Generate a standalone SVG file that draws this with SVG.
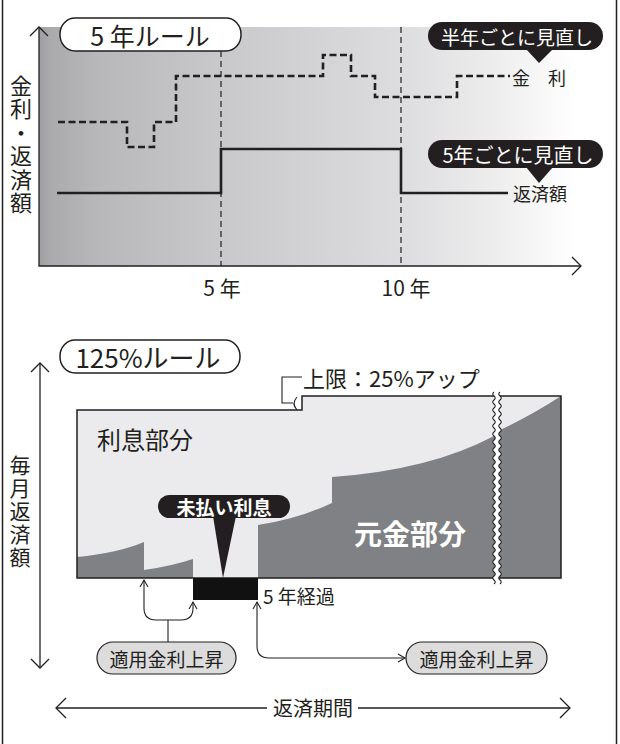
<svg xmlns="http://www.w3.org/2000/svg" width="620" height="744" viewBox="0 0 620 744">
<defs>
<linearGradient id="bg" x1="0" y1="0" x2="1" y2="0">
<stop offset="0" stop-color="#9e9ea0"/>
<stop offset="0.02" stop-color="#aaaaac"/>
<stop offset="0.11" stop-color="#b8b8ba"/>
<stop offset="0.34" stop-color="#c9c9cb"/>
<stop offset="0.67" stop-color="#dddddf"/>
<stop offset="0.85" stop-color="#eeeeef"/>
<stop offset="0.97" stop-color="#fdfdfd"/>
<stop offset="1" stop-color="#ffffff"/>
</linearGradient>
<style>
text { font-family: "Noto Sans CJK JP", "Noto Sans", sans-serif; fill: #231f20; }
.c { text-anchor: middle; dominant-baseline: central; }
.s { dominant-baseline: central; }
.v { writing-mode: vertical-rl; text-anchor: middle; }
.w { fill: #ffffff; }
.b { font-weight: bold; }
.ln { fill: none; stroke: #231f20; stroke-width: 1.1; }
.ax { fill: none; stroke: #231f20; stroke-width: 1.3; }
.pill { fill: #ffffff; stroke: #231f20; stroke-width: 1.5; }
.bubble { fill: #231f20; }
.gpill { fill: #dcdcdd; stroke: #231f20; stroke-width: 1.2; }
.vdash { stroke: #231f20; stroke-width: 1.2; stroke-dasharray: 6 4; fill: none; }
.rate { fill: none; stroke: #231f20; stroke-width: 2.6; stroke-dasharray: 7 3.5; }
.pay { fill: none; stroke: #231f20; stroke-width: 2.6; }
.light { fill: #ebebed; }
.dark { fill: #808184; }
</style>
</defs>

<g id="frame">
<line x1="2.5" y1="0" x2="2.5" y2="744" stroke="#231f20" stroke-width="1.5"/>
<line x1="616.5" y1="0" x2="616.5" y2="744" stroke="#231f20" stroke-width="1.5"/>
</g>

<!-- 5年ルール chart -->
<g id="chart5">
<rect x="39" y="27" width="542" height="239" fill="url(#bg)"/>
<line class="vdash" x1="221" y1="51" x2="221" y2="266"/>
<line class="vdash" x1="401" y1="27" x2="401" y2="266"/>
<path class="ax" d="M39,27 V266 H581"/>
<path class="ax" d="M30,36 L39,27 L48,36"/>
<path class="ax" d="M572,257 L581,266 L572,275"/>
<path id="rate-line" class="rate" d="M58,122 H127 V147 H154 V122 H176 V76 H323 V55 H351 V76 H375 V97 H457 V76 H510"/>
<path id="pay-line" class="pay" d="M57,193 H221 V149 H401 V193 H508"/>
<text class="c" x="539" y="77" font-size="18">金　利</text>
<text class="c" x="540" y="193" font-size="18">返済額</text>
<text class="c" x="222" y="287" font-size="21">5 年</text>
<text class="c" x="406" y="287" font-size="21">10 年</text>
</g>

<g id="ylabel-top">
<text class="v" x="21" y="145" font-size="22" letter-spacing="1.5">金利・返済額</text>
</g>

<g id="title-5year">
<rect class="pill" x="60" y="18" width="181" height="33" rx="15" ry="16"/>
<text class="c" x="150" y="35" font-size="25">5 年ルール</text>
</g>

<g id="callout-halfyear">
<rect class="bubble" x="428" y="22" width="175" height="28" rx="14"/>
<path class="bubble" d="M526,49 L553,49 L539,63 Z"/>
<text class="c w" x="517" y="36" font-size="19">半年ごとに見直し</text>
</g>

<g id="callout-5year">
<rect class="bubble" x="428" y="140" width="175" height="28" rx="14"/>
<path class="bubble" d="M526,167 L553,167 L539,183 Z"/>
<text class="c w" x="518" y="154" font-size="20">5年ごとに見直し</text>
</g>

<!-- 125%ルール -->
<g id="title-125">
<rect class="pill" x="60" y="340" width="180" height="33" rx="15" ry="16"/>
<text class="c" x="148" y="356" font-size="26">125%ルール</text>
</g>

<g id="ylabel-bottom">
<text class="v" x="20" y="512" font-size="21" letter-spacing="2">毎月返済額</text>
</g>

<g id="chart125">
<path class="light" d="M77,410 H302 V396 H561 V578 H77 Z"/>
<path class="dark" d="M77,578 V557 Q118,553 144,542 V570 Q172,566 193,559 V578 Z"/>
<path class="dark" d="M258,578 V525 Q298,519 332,503 V477 Q430,470 494,436 L500,430 Q532,415 561,396 V578 Z"/>
<path d="M77,410 H302 V396 H561 V578 H77 Z" fill="none" stroke="#231f20" stroke-width="1.5"/>
<rect x="193" y="578" width="65" height="22" fill="#111111"/>
<text class="c" x="145" y="438" font-size="24">利息部分</text>
<text class="c w b" x="410" y="533" font-size="28">元金部分</text>
</g>

<g id="break">
<path fill="#ffffff" d="M494,392 q-2.5,2 0,4 t0,4 t0,4 t0,4 t0,4 t0,4 t0,4 t0,4 t0,4 t0,4 t0,4 t0,4 t0,4 t0,4 t0,4 t0,4 t0,4 t0,4 t0,4 t0,4 t0,4 t0,4 t0,4 t0,4 t0,4 t0,4 t0,4 t0,4 t0,4 t0,4 t0,4 t0,4 t0,4 t0,4 t0,4 t0,4 t0,4 t0,4 t0,4 t0,4 t0,4 t0,4 t0,4 t0,4 t0,4 t0,4 t0,4 t0,4 L500,584 q2.5,-2 0,-4 t0,-4 t0,-4 t0,-4 t0,-4 t0,-4 t0,-4 t0,-4 t0,-4 t0,-4 t0,-4 t0,-4 t0,-4 t0,-4 t0,-4 t0,-4 t0,-4 t0,-4 t0,-4 t0,-4 t0,-4 t0,-4 t0,-4 t0,-4 t0,-4 t0,-4 t0,-4 t0,-4 t0,-4 t0,-4 t0,-4 t0,-4 t0,-4 t0,-4 t0,-4 t0,-4 t0,-4 t0,-4 t0,-4 t0,-4 t0,-4 t0,-4 t0,-4 t0,-4 t0,-4 t0,-4 t0,-4 t0,-4 Z"/>
<path class="ln" d="M494,392 q-2.5,2 0,4 t0,4 t0,4 t0,4 t0,4 t0,4 t0,4 t0,4 t0,4 t0,4 t0,4 t0,4 t0,4 t0,4 t0,4 t0,4 t0,4 t0,4 t0,4 t0,4 t0,4 t0,4 t0,4 t0,4 t0,4 t0,4 t0,4 t0,4 t0,4 t0,4 t0,4 t0,4 t0,4 t0,4 t0,4 t0,4 t0,4 t0,4 t0,4 t0,4 t0,4 t0,4 t0,4 t0,4 t0,4 t0,4 t0,4 t0,4"/>
<path class="ln" d="M500,584 q2.5,-2 0,-4 t0,-4 t0,-4 t0,-4 t0,-4 t0,-4 t0,-4 t0,-4 t0,-4 t0,-4 t0,-4 t0,-4 t0,-4 t0,-4 t0,-4 t0,-4 t0,-4 t0,-4 t0,-4 t0,-4 t0,-4 t0,-4 t0,-4 t0,-4 t0,-4 t0,-4 t0,-4 t0,-4 t0,-4 t0,-4 t0,-4 t0,-4 t0,-4 t0,-4 t0,-4 t0,-4 t0,-4 t0,-4 t0,-4 t0,-4 t0,-4 t0,-4 t0,-4 t0,-4 t0,-4 t0,-4 t0,-4 t0,-4"/>
</g>

<g id="cap-label">
<path class="ln" d="M302,377 H282 V403 H293"/>
<path class="ln" d="M297,397 Q291,403.5 297,410"/>
<text class="s" x="303" y="377" font-size="22">上限：25%アップ</text>
</g>

<g id="callout-unpaid">
<rect class="bubble" x="158" y="495" width="132" height="23" rx="11.5"/>
<path class="bubble" d="M213,516 L236,516 L223,578 Z"/>
<text class="c w b" x="224" y="506.5" font-size="19">未払い利息</text>
</g>

<g id="label-5years">
<text class="s" x="263" y="595" font-size="19">5 年経過</text>
</g>

<g id="pill-left">
<rect class="gpill" x="97" y="642" width="139" height="32" rx="16"/>
<text class="c" x="166.5" y="658" font-size="19">適用金利上昇</text>
</g>

<g id="pill-right">
<rect class="gpill" x="406" y="642" width="141" height="32" rx="16"/>
<text class="c" x="476.5" y="658" font-size="19">適用金利上昇</text>
</g>

<g id="connectors">
<path class="ax" d="M40,363 V668"/>
<path class="ax" d="M31,372 L40,363 L49,372"/>
<path class="ax" d="M31,659 L40,668 L49,659"/>
<path class="ln" d="M144,580 V608 Q144,620 156,620 H181 Q193,620 193,608 V602"/>
<path class="ln" d="M140,587 L144,580 L148,587"/>
<path class="ln" d="M189,609 L193,602 L197,609"/>
<path class="ln" d="M168,620 V642"/>
<path class="ln" d="M257,602 V646 Q257,658 269,658 H405"/>
<path class="ln" d="M253,609 L257,602 L261,609"/>
<path class="ln" d="M398,654 L405,658 L398,662"/>
<path class="ax" d="M56,708 H267 M358,708 H570"/>
<path class="ax" d="M66,698 L56,708 L66,718"/>
<path class="ax" d="M560,698 L570,708 L560,718"/>
</g>
<text class="c" x="313" y="707" font-size="20">返済期間</text>
</svg>
